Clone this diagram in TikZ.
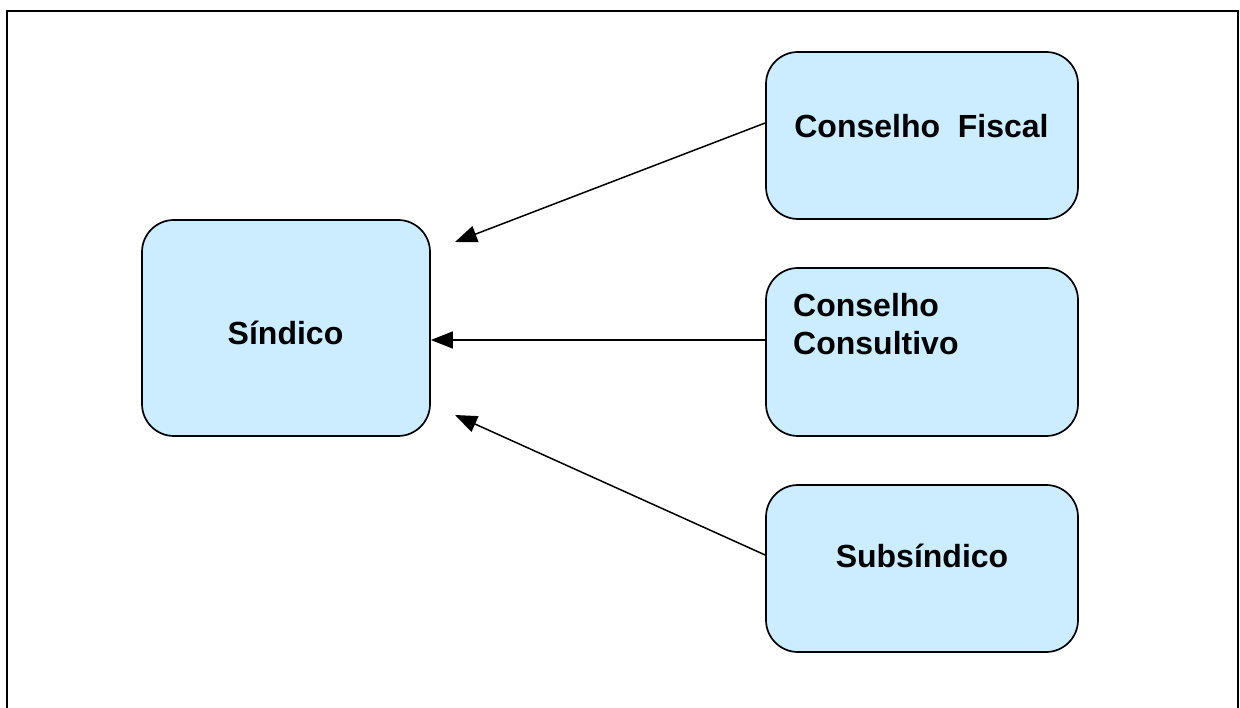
\documentclass[tikz,border=0pt]{standalone}
\usepackage{fontspec}
\setmainfont{Liberation Sans}
\usetikzlibrary{arrows.meta,calc}
\definecolor{boxfill}{HTML}{CCECFF}
\tikzset{
  orgbox/.style={draw=black, line width=1.7pt, fill=boxfill, rounded corners=32pt,
    minimum width=#1, inner sep=0pt},
  lbl/.style={inner sep=0pt, font=\fontsize{32}{38}\selectfont\bfseries},
  conn/.style={line width=1.5pt, -{Triangle[length=22pt,width=17pt]}},
}
\begin{document}
\begin{tikzpicture}[x=1pt,y=-1pt]
\path[use as bounding box] (0,0) rectangle (1240,708);
\draw[line width=2.5pt] (7,11) rectangle (1238,730);
% boxes
\node[orgbox=288pt, minimum height=216pt] (sind) at (286,328) {};
\node[orgbox=312pt, minimum height=167pt] (fisc) at (922,135.5) {};
\node[orgbox=312pt, minimum height=168pt] (cons) at (922,352) {};
\node[orgbox=312pt, minimum height=167pt] (subs) at (922,568.5) {};
% labels
\node[lbl, anchor=base] (tsind) at (285.5,345) {Síndico};
\node[lbl, anchor=base] (tfisc) at (921.5,137.5) {Conselho\ \ Fiscal};
\node[lbl, anchor=north west, align=left] (tcons) at (793,293) {Conselho\\Consultivo};
\node[lbl, anchor=base] (tsubs) at (922,567) {Subsíndico};
% connector ends
\coordinate (s1) at ($(fisc.west)+(0,-12.5)$);
\coordinate (e1) at (455,242);
\coordinate (s2) at (cons.west |- 0,340);
\coordinate (e2) at (sind.east |- 0,340);
\coordinate (s3) at ($(subs.west)+(0,-13.5)$);
\coordinate (e3) at (455,415);
\draw[conn] (s1) -- (e1);
\draw[conn] (s2) -- (e2);
\draw[conn] (s3) -- (e3);
\end{tikzpicture}
\end{document}
